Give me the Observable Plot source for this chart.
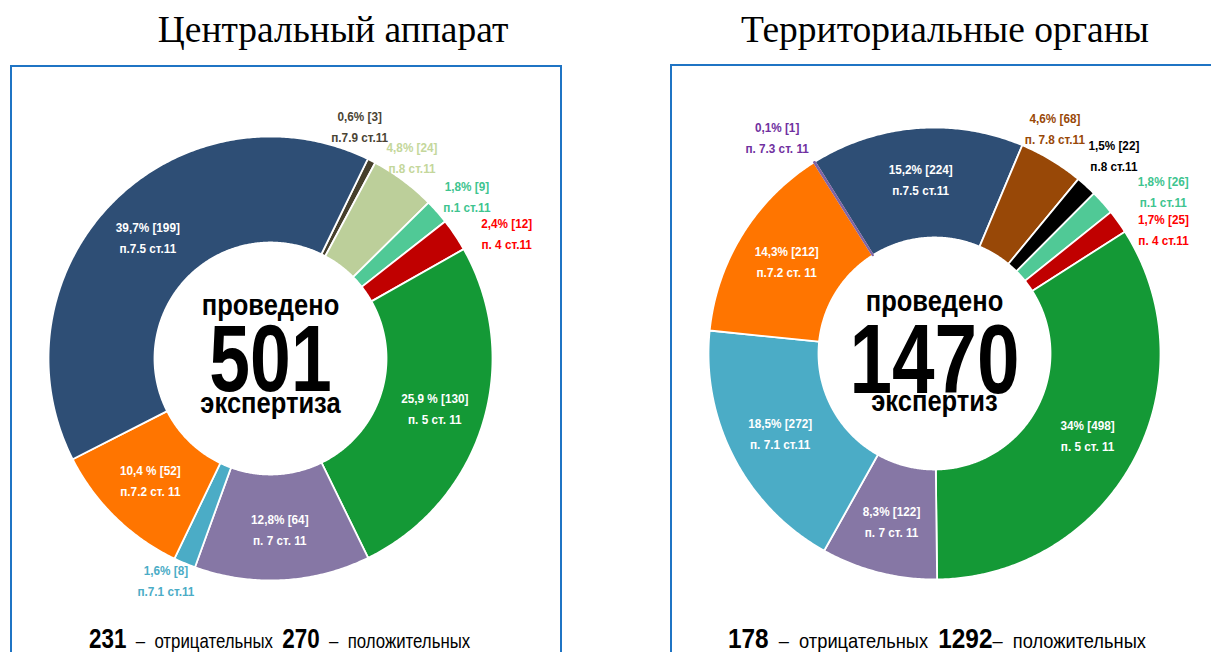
<!DOCTYPE html>
<html>
<head>
<meta charset="utf-8">
<script src="https://cdn.jsdelivr.net/npm/d3@7"></script>
<script src="https://cdn.jsdelivr.net/npm/@observablehq/plot@0.6"></script>
<style>
  html, body { margin:0; padding:0; background:#fff; width:1211px; height:652px; overflow:hidden; position:relative; }
  .box { position:absolute; border:2px solid #1f74c4; box-sizing:border-box; }
  .title { position:absolute; top:11px; font-family:"Liberation Serif","Times New Roman",serif; font-size:37.5px; line-height:1; white-space:nowrap; transform:translateX(-50%); color:#000; }
  .totals { position:absolute; white-space:nowrap; font-family:"Liberation Sans",Arial,sans-serif; font-size:21px; line-height:22px; transform-origin:0 0; color:#000; }
  .totals b { font-size:28px; line-height:22px; }
  #chart { position:absolute; left:0; top:0; }
</style>
</head>
<body>
<div id="chart"></div>
<script>
// ---------------- data ----------------
const panelTitles = ["Центральный аппарат", "Территориальные органы"];
const totalsAll = [501, 1470];
const totalsNegative = [231, 178];
const totalsPositive = [270, 1292];
const centerWordTop = ["проведено", "проведено"];
const centerWordBottom = ["экспертиза", "экспертиз"];

const centralSections = ["п.7.9 ст.11", "п.8 ст.11", "п.1 ст.11", "п. 4 ст.11", "п. 5 ст. 11", "п. 7 ст. 11", "п.7.1 ст.11", "п.7.2 ст. 11", "п.7.5 ст.11"];
const centralCounts   = [3, 24, 9, 12, 130, 64, 8, 52, 199];
const centralShares   = ["0,6%", "4,8%", "1,8%", "2,4%", "25,9 %", "12,8%", "1,6%", "10,4 %", "39,7%"];

const territorialSections = ["п.7.5 ст.11", "п. 7.8 ст.11", "п.8 ст.11", "п.1 ст.11", "п. 4 ст.11", "п. 5 ст. 11", "п. 7 ст. 11", "п. 7.1 ст.11", "п.7.2 ст. 11", "п. 7.3 ст. 11"];
const territorialCounts   = [224, 68, 22, 26, 25, 498, 122, 272, 212, 1];
const territorialShares   = ["15,2%", "4,6%", "1,5%", "1,8%", "1,7%", "34%", "8,3%", "18,5%", "14,3%", "0,1%"];

// ---------------- styles ----------------
const centralFills      = ["#463f2c", "#bccf9a", "#50c996", "#c00000", "#149936", "#8677a5", "#4bacc6", "#ff7500", "#2e4e75"];
const centralLabelFills = ["#4a4434", "#c4d79b", "#3ec48f", "#ff0000", "#ffffff", "#ffffff", "#4bacc6", "#ffffff", "#ffffff"];
const territorialFills      = ["#2e4e75", "#984807", "#000000", "#50c996", "#c00000", "#149936", "#8677a5", "#4bacc6", "#ff7500", "#8064a2"];
const territorialLabelFills = ["#ffffff", "#984807", "#000000", "#3ec48f", "#ff0000", "#ffffff", "#ffffff", "#ffffff", "#ffffff", "#7030a0"];

// ---------------- layout ----------------
// nudges for labels placed outside the ring: [angle shift in degrees, distance beyond outer radius]
const panels = [
  {id:"c", titleX:333, boxLeft:10, boxTop:65, boxWidth:552, cx:270, cy:358, R:222, r:116, start:26,
   topBase:-44, bigBase:32, bottomBase:54, bigSize:94, totalsLeft:89, totalsScale:0.8,
   nudge:[[-6,26],[-1.5,23],[2,32],[6,45],null,null,[2.4,24],null,null]},
  {id:"t", titleX:945, boxLeft:670, boxTop:64, boxWidth:620, cx:934, cy:353, R:226, r:116, start:-32,
   topBase:-43, bigBase:39, bottomBase:57, bigSize:98, totalsLeft:728, totalsScale:0.87,
   nudge:[null,[-3,29],[0,41],[6.7,54],[7.4,34],null,null,null,null,[-4,41]]}
];
const panelData = [
  {sections:centralSections, counts:centralCounts, shares:centralShares, fills:centralFills, labelFills:centralLabelFills},
  {sections:territorialSections, counts:territorialCounts, shares:territorialShares, fills:territorialFills, labelFills:territorialLabelFills}
];

const LABEL_SIZE = 13.5, WORD_SIZE = 29;
const deg = Math.PI / 180;
const ring = [], labels = [], centers = [];
panels.forEach((p, pi) => {
  const d = panelData[pi];
  const total = d3.sum(d.counts);
  const arcs = d3.pie().sort(null).value(v => v)
    .startAngle(p.start * deg).endAngle(p.start * deg + 2 * Math.PI)(d.counts);
  arcs.forEach((a, i) => {
    const key = p.id + i;
    const fill = d.fills[i];
    const stroke = d.counts[i] / total < 0.004 ? fill : "#ffffff";
    const n = Math.max(2, Math.ceil((a.endAngle - a.startAngle) / (0.5 * deg)));
    for (let k = 0; k <= n; k++) {
      const t = a.startAngle + (a.endAngle - a.startAngle) * k / n;
      ring.push({key, fill, stroke, x: p.cx + p.R * Math.sin(t), y: p.cy - p.R * Math.cos(t)});
    }
    for (let k = n; k >= 0; k--) {
      const t = a.startAngle + (a.endAngle - a.startAngle) * k / n;
      ring.push({key, fill, stroke, x: p.cx + p.r * Math.sin(t), y: p.cy - p.r * Math.cos(t)});
    }
    const nd = p.nudge[i];
    const mid = (a.startAngle + a.endAngle) / 2 + (nd ? nd[0] * deg : 0);
    const rho = nd ? p.R + nd[1] : (p.R + p.r) / 2 + 3;
    labels.push({
      x: p.cx + rho * Math.sin(mid), y: p.cy - rho * Math.cos(mid),
      line1: `${d.shares[i]} [${d.counts[i]}]`, line2: d.sections[i], color: d.labelFills[i]
    });
  });
  centers.push({x: p.cx, yTop: p.cy + p.topBase, yBig: p.cy + p.bigBase, yBottom: p.cy + p.bottomBase,
    top: centerWordTop[pi], big: String(totalsAll[pi]), bottom: centerWordBottom[pi]});
});

const FONT = "Liberation Sans, Arial, sans-serif";
const chart = Plot.plot({
  width: 1211, height: 652, margin: 0,
  style: {background: "transparent"},
  x: {domain: [0, 1211], range: [0, 1211], axis: null},
  y: {domain: [0, 652], range: [0, 652], axis: null},
  color: {type: "identity"},
  marks: [
    Plot.line(ring, {x: "x", y: "y", z: "key", fill: "fill", stroke: "stroke", strokeWidth: 1.8, curve: "linear-closed", strokeLinejoin: "round"}),
    Plot.text(labels, {x: "x", y: "y", text: "line1", fill: "color", dy: -10.5, fontSize: LABEL_SIZE, fontWeight: "bold", fontFamily: FONT}),
    Plot.text(labels, {x: "x", y: "y", text: "line2", fill: "color", dy: 10.5, fontSize: LABEL_SIZE, fontWeight: "bold", fontFamily: FONT}),
    Plot.text(centers, {x: "x", y: "yTop", text: "top", lineAnchor: "bottom", fill: "#000", fontSize: WORD_SIZE, fontWeight: "bold", fontFamily: FONT}),
    Plot.text(centers.slice(0, 1), {x: "x", y: "yBig", text: "big", lineAnchor: "bottom", fill: "#000", fontSize: panels[0].bigSize, fontWeight: "bold", fontFamily: FONT}),
    Plot.text(centers.slice(1), {x: "x", y: "yBig", text: "big", lineAnchor: "bottom", fill: "#000", fontSize: panels[1].bigSize, fontWeight: "bold", fontFamily: FONT}),
    Plot.text(centers, {x: "x", y: "yBottom", text: "bottom", lineAnchor: "bottom", fill: "#000", fontSize: WORD_SIZE, fontWeight: "bold", fontFamily: FONT})
  ]
});

// boxes, titles and totals lines (HTML)
panels.forEach((p, pi) => {
  const box = document.createElement("div");
  box.className = "box";
  Object.assign(box.style, {left: p.boxLeft + "px", top: p.boxTop + "px", width: p.boxWidth + "px", height: "700px"});
  document.body.insertBefore(box, document.getElementById("chart"));
  const t = document.createElement("div");
  t.className = "title";
  t.style.left = p.titleX + "px";
  t.textContent = panelTitles[pi];
  document.body.appendChild(t);
  const tot = document.createElement("div");
  tot.className = "totals";
  Object.assign(tot.style, {left: p.totalsLeft + "px", top: "628px", transform: `scaleX(${p.totalsScale})`});
  tot.innerHTML = pi === 0
    ? `<b>${totalsNegative[pi]}</b> &nbsp;–&nbsp; отрицательных &nbsp;<b>${totalsPositive[pi]}</b> &nbsp;–&nbsp; положительных`
    : `<b>${totalsNegative[pi]}</b> &nbsp;–&nbsp; отрицательных &nbsp;<b>${totalsPositive[pi]}</b>–&nbsp; положительных`;
  document.body.appendChild(tot);
});

document.getElementById("chart").appendChild(chart);

// condense the narrow-looking texts (selected by their font size)
const squeeze = [[LABEL_SIZE, 0.87], [WORD_SIZE, 0.88], [panels[0].bigSize, 0.78], [panels[1].bigSize, 0.78]];
for (const [size, k] of squeeze) {
  chart.querySelectorAll("g").forEach(g => {
    if (parseFloat(g.getAttribute("font-size")) !== size) return;
    g.querySelectorAll("text").forEach(t => {
      const w = t.getComputedTextLength();
      t.setAttribute("textLength", (w * k).toFixed(1));
      t.setAttribute("lengthAdjust", "spacingAndGlyphs");
    });
  });
}
</script>
</body>
</html>
